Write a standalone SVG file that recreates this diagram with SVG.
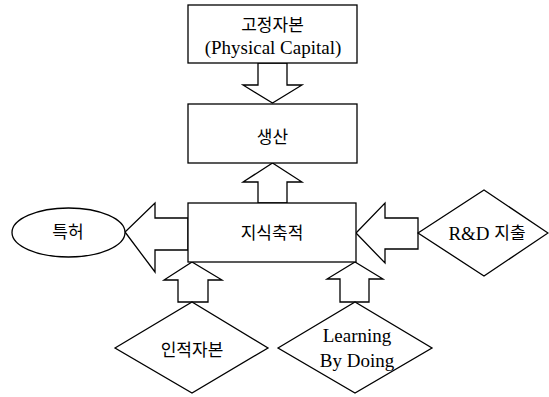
<svg xmlns="http://www.w3.org/2000/svg" width="549" height="397" viewBox="0 0 549 397">
<style>
.s{fill:#fff;stroke:#000;stroke-width:1.3}
.t{font-family:"Liberation Serif","Noto Sans CJK KR",serif;font-size:17px;fill:#000;text-anchor:middle;dominant-baseline:central}
.e{font-size:19px}
</style>
<rect width="549" height="397" fill="#fff"/>
<g id="connectors">
<polygon class="s" points="258,63 287,63 287,85 302,85 272.5,103 243,85 258,85"/>
<polygon class="s" points="258,203 287,203 287,182 302,182 272.5,163 243,182 258,182"/>
<polygon class="s" points="188,218 188,250 155,250 155,272 125,232 155,203 155,218"/>
<polygon class="s" points="418,218 418,249 385,249 385,263 356,233 385,203 385,218"/>
<polygon class="s" points="178,302 208,302 208,280 222,280 192,262 164,280 178,280"/>
<polygon class="s" points="340,302 369,302 369,279 383,279 355,262 327,279 340,279"/>
</g>
<g id="physical">
<rect class="s" x="188" y="5" width="169" height="58"/>
<text class="t" x="272.5" y="25">고정자본</text>
<text class="t e" x="273" y="47">(Physical Capital)</text>
</g>
<g id="production">
<rect class="s" x="188" y="104" width="169" height="59"/>
<text class="t" x="272.5" y="137">생산</text>
</g>
<g id="knowledge">
<rect class="s" x="188" y="203" width="168" height="59"/>
<text class="t" x="272" y="233">지식축적</text>
</g>
<g id="patent">
<ellipse class="s" cx="68.5" cy="232.5" rx="56.5" ry="24.5"/>
<text class="t" x="68" y="232">특허</text>
</g>
<g id="rnd">
<polygon class="s" points="418,233 484,190 548,233 484,276"/>
<text class="t" x="487" y="233"><tspan class="e">R&amp;D </tspan>지출</text>
</g>
<g id="human">
<polygon class="s" points="115,348 192,302 268,348 192,393"/>
<text class="t" x="192" y="350">인적자본</text>
</g>
<g id="lbd">
<polygon class="s" points="278,348 355,302 432,348 355,393"/>
<text class="t e" x="357" y="335">Learning</text>
<text class="t e" x="357" y="360">By Doing</text>
</g>
</svg>
